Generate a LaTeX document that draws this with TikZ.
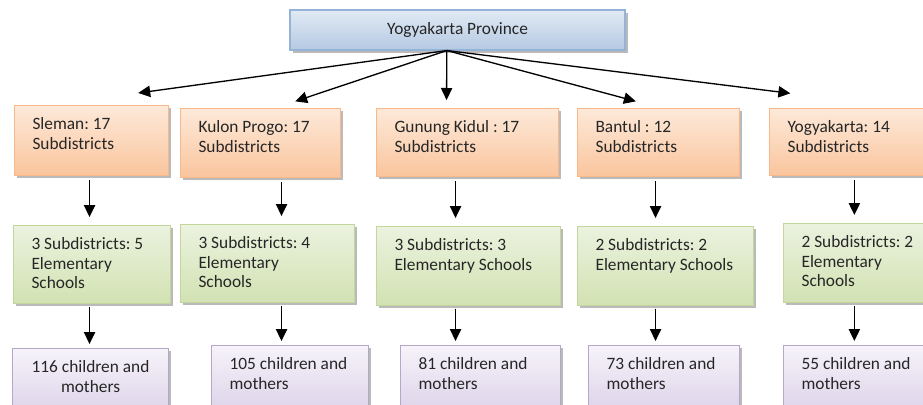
\documentclass[tikz,border=0pt]{standalone}
\usepackage{fontspec}
\setmainfont{Carlito}
\usetikzlibrary{arrows.meta,shadows}
\frenchspacing

\definecolor{provTop}{HTML}{E1EAF4}
\definecolor{provBot}{HTML}{B4C9E3}
\definecolor{provLine}{HTML}{95B3D7}
\definecolor{peachTop}{HTML}{FDE9D9}
\definecolor{peachBot}{HTML}{FAC59D}
\definecolor{peachLine}{HTML}{F8B88A}
\definecolor{limeTop}{HTML}{EBF2DF}
\definecolor{limeBot}{HTML}{D2E2B2}
\definecolor{limeLine}{HTML}{C3D69B}
\definecolor{lilacTop}{HTML}{F6F3FA}
\definecolor{lilacBot}{HTML}{DED5EA}
\definecolor{lilacLine}{HTML}{B6A6CA}

\newcommand{\cellText}[3]{\parbox[c][\dimexpr(#2pt-20pt)*3/4\relax][t]{\dimexpr(#1pt-36pt)*3/4\relax}{\raggedright\strut #3}}

\begin{document}
\begin{tikzpicture}[x=0.75pt,y=-0.75pt,
    every node/.style={font=\fontsize{13pt}{14.8pt}\selectfont, text=black!85},
    cell/.style={draw=#1Line, top color=#1Top, bottom color=#1Bot, line width=0.8pt,
      anchor=north west, inner xsep=13.5pt, inner ysep=7.5pt,
      drop shadow={shadow xshift=2pt, shadow yshift=-2pt, fill=black!45, opacity=.6}},
    arr/.style={-{Triangle[length=9pt,width=8.5pt]}, line width=1pt}]
    \useasboundingbox (0,0) rectangle (923,404);
    \clip (0,0) rectangle (923,404);

    \node[cell=prov, anchor=center, inner sep=0pt, minimum width=251.25pt, minimum height=30pt] (prov) at (457.5,30) {Yogyakarta Province};

    \node[cell=peach] (sleman) at (14,105) {\cellText{154}{70}{Sleman: 17\\Subdistricts}};
    \node[cell=peach] (kulon) at (180,108) {\cellText{160}{69}{Kulon Progo: 17\\Subdistricts}};
    \node[cell=peach] (gunung) at (376,108) {\cellText{182}{68}{Gunung Kidul : 17\\Subdistricts}};
    \node[cell=peach] (bantul) at (577,108) {\cellText{162}{68}{Bantul : 12\\Subdistricts}};
    \node[cell=peach] (yogya) at (769,108) {\cellText{175}{67}{Yogyakarta: 14\\Subdistricts}};

    \node[cell=lime] (slemanSd) at (13,225) {\cellText{157}{78}{3 Subdistricts: 5\\Elementary\\Schools}};
    \node[cell=lime] (kulonSd) at (180,224) {\cellText{174}{78}{3 Subdistricts: 4\\Elementary\\Schools}};
    \node[cell=lime] (gunungSd) at (376,226) {\cellText{184}{79}{3 Subdistricts: 3\\Elementary Schools}};
    \node[cell=lime] (bantulSd) at (577,226) {\cellText{176}{79}{2 Subdistricts: 2\\Elementary Schools}};
    \node[cell=lime] (yogyaSd) at (783,223) {\cellText{165}{79}{2 Subdistricts: 2\\Elementary\\Schools}};

    \node[cell=lilac] (slemanKid) at (12,348) {\cellText{156}{62}{\centering 116 children and\\mothers}};
    \node[cell=lilac] (kulonKid) at (211,345) {\cellText{157}{62}{105 children and\\mothers}};
    \node[cell=lilac] (gunungKid) at (400,345) {\cellText{160}{62}{81 children and\\mothers}};
    \node[cell=lilac] (bantulKid) at (588,345) {\cellText{151}{62}{73 children and\\mothers}};
    \node[cell=lilac] (yogyaKid) at (783,345) {\cellText{165}{62}{55 children and\\mothers}};

    \coordinate (hub) at ([xshift=-8pt]prov.south);
    \draw[arr] (hub) -- ([xshift=35pt,yshift=9pt]sleman.north);
    \draw[arr] (hub) -- ([xshift=26pt,yshift=5pt]kulon.north);
    \draw[arr] (hub) -- ([xshift=-15.75pt,yshift=6pt]gunung.north);
    \draw[arr] (hub) -- ([xshift=-17pt,yshift=5pt]bantul.north);
    \draw[arr] (hub) -- ([xshift=-50pt,yshift=11pt]yogya.north);

    \draw[arr, shorten <=3pt, shorten >=6pt] ([xshift=-1.5pt]sleman.south) -- ([xshift=-1.5pt]sleman.south |- slemanSd.north);
    \draw[arr, shorten <=3pt, shorten >=6pt] ([xshift=15.75pt]kulon.south) -- ([xshift=15.75pt]kulon.south |- kulonSd.north);
    \draw[arr, shorten <=3pt, shorten >=6pt] ([xshift=-9pt]gunung.south) -- ([xshift=-9pt]gunung.south |- gunungSd.north);
    \draw[arr, shorten <=3pt, shorten >=6pt] ([xshift=-2.25pt]bantul.south) -- ([xshift=-2.25pt]bantul.south |- bantulSd.north);
    \draw[arr, shorten <=3pt, shorten >=6pt] ([xshift=-2pt]yogya.south) -- ([xshift=-2pt]yogya.south |- yogyaSd.north);

    \draw[arr, shorten <=2pt, shorten >=3pt] ([xshift=-1.5pt]sleman.south |- slemanSd.south) -- ([xshift=-1.5pt]sleman.south |- slemanKid.north);
    \draw[arr, shorten <=2pt, shorten >=3pt] ([xshift=15.75pt]kulon.south |- kulonSd.south) -- ([xshift=15.75pt]kulon.south |- kulonKid.north);
    \draw[arr, shorten <=2pt, shorten >=3pt] ([xshift=-9pt]gunung.south |- gunungSd.south) -- ([xshift=-9pt]gunung.south |- gunungKid.north);
    \draw[arr, shorten <=2pt, shorten >=3pt] ([xshift=-2.25pt]bantul.south |- bantulSd.south) -- ([xshift=-2.25pt]bantul.south |- bantulKid.north);
    \draw[arr, shorten <=2pt, shorten >=3pt] ([xshift=-2pt]yogya.south |- yogyaSd.south) -- ([xshift=-2pt]yogya.south |- yogyaKid.north);
  \end{tikzpicture}
\end{document}
